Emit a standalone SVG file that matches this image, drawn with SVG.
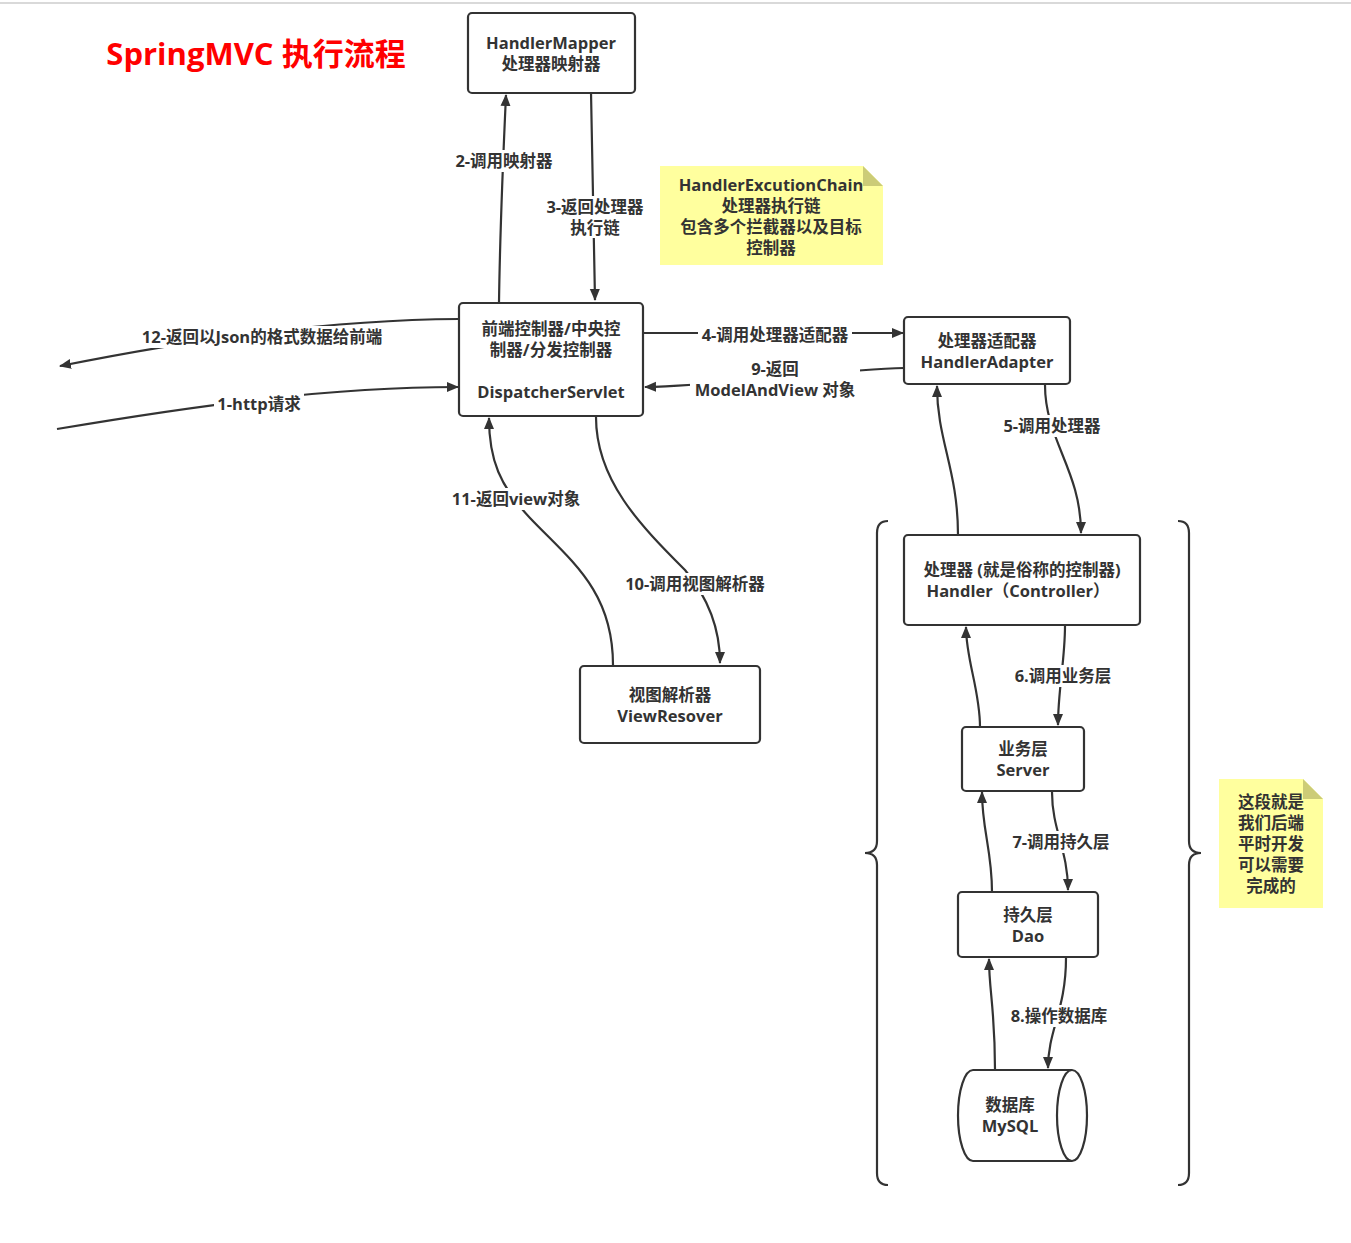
<svg xmlns="http://www.w3.org/2000/svg" width="1351" height="1243" viewBox="0 0 1351 1243">
<defs>
<marker id="ah" viewBox="0 0 12 12" refX="11" refY="6" markerWidth="12" markerHeight="12" markerUnits="userSpaceOnUse" orient="auto">
<path d="M0,1 L12,6 L0,11 Z" fill="#333"/>
</marker>
</defs>
<style>
.box{fill:#fff;stroke:#333;stroke-width:2.2}
.t{font-family:"Open Sans","Noto Sans CJK SC",sans-serif;font-size:16.5px;font-weight:bold;fill:#333;text-anchor:middle}
.c{fill:none;stroke:#333;stroke-width:2.2;marker-end:url(#ah)}
.l{fill:none;stroke:#333;stroke-width:2.2}
.lbl{font-family:"Open Sans","Noto Sans CJK SC",sans-serif;font-size:16.5px;font-weight:bold;fill:#333;text-anchor:middle}
.bg{fill:#fff}
.note{fill:#ffff99;opacity:0.95}
.fold{fill:#cccc77}
</style>
<rect width="1351" height="1243" fill="#fff"/>
<line x1="0" y1="3" x2="1351" y2="3" stroke="#ccc" stroke-width="1.5"/>
<text x="256" y="65" font-family="'Open Sans','Noto Sans CJK SC',sans-serif" font-size="31" font-weight="bold" fill="#ff0000" text-anchor="middle">SpringMVC 执行流程</text>

<g id="connectors">
<path class="c" d="M499,303 C500,230 503,160 506,95"/>
<path class="c" d="M591,92 C592,160 594,230 595,300"/>
<path class="c" d="M643,333 L903,333"/>
<path class="c" d="M904,368 C840,369 720,386 645,387"/>
<path class="c" d="M459,319 C330,320 200,338 60,366"/>
<path class="c" d="M57,429 C200,405 330,387 458,387"/>
<path class="c" d="M613,665 C613,590 570,560 530,518 C500,486 489,460 489,418"/>
<path class="c" d="M596,417 C596,480 640,525 685,570 C710,600 720,630 720,663"/>
<path class="c" d="M1045,385 C1045,440 1081,470 1081,533"/>
<path class="c" d="M958,535 C958,470 937,440 937,386"/>
<path class="c" d="M1065,626 C1065,660 1058,690 1058,725"/>
<path class="c" d="M980,727 C980,690 966,660 966,627"/>
<path class="c" d="M1052,792 C1052,830 1068,850 1068,890"/>
<path class="c" d="M992,892 C992,850 982,830 982,792"/>
<path class="c" d="M1066,958 C1066,1010 1048,1030 1048,1068"/>
<path class="c" d="M995,1069 C995,1010 989,990 989,959"/>
<path class="l" d="M888,521 Q877,521 877,533 L877,841 Q877,853 865,853 Q877,853 877,865 L877,1173 Q877,1185 888,1185"/>
<path class="l" d="M1178,521 Q1189,521 1189,533 L1189,841 Q1189,853 1201,853 Q1189,853 1189,865 L1189,1173 Q1189,1185 1178,1185"/>
<g id="labels">
<rect class="bg" x="453" y="150" width="104" height="22"/>
<text class="lbl" x="504" y="167">2-调用映射器</text>
<rect class="bg" x="543" y="196" width="104" height="42"/>
<text class="lbl" x="595" y="213">3-返回处理器</text>
<text class="lbl" x="595" y="234">执行链</text>
<rect class="bg" x="698" y="324" width="154" height="22"/>
<text class="lbl" x="775" y="341">4-调用处理器适配器</text>
<rect class="bg" x="690" y="358" width="170" height="42"/>
<text class="lbl" x="775" y="375">9-返回</text>
<text class="lbl" x="775" y="396">ModelAndView 对象</text>
<rect class="bg" x="136" y="326" width="254" height="22"/>
<text class="lbl" x="262" y="343">12-返回以Json的格式数据给前端</text>
<rect class="bg" x="214" y="393" width="90" height="22"/>
<text class="lbl" x="259" y="410">1-http请求</text>
<rect class="bg" x="448" y="488" width="136" height="22"/>
<text class="lbl" x="516" y="505">11-返回view对象</text>
<rect class="bg" x="621" y="573" width="148" height="22"/>
<text class="lbl" x="695" y="590">10-调用视图解析器</text>
<rect class="bg" x="1000" y="415" width="104" height="22"/>
<text class="lbl" x="1052" y="432">5-调用处理器</text>
<rect class="bg" x="1013" y="665" width="101" height="22"/>
<text class="lbl" x="1063" y="682">6.调用业务层</text>
<rect class="bg" x="1010" y="831" width="104" height="22"/>
<text class="lbl" x="1061" y="848">7-调用持久层</text>
<rect class="bg" x="1009" y="1005" width="101" height="22"/>
<text class="lbl" x="1059" y="1022">8.操作数据库</text>
</g>
</g>

<g id="handlerMapper">
<rect class="box" x="468" y="13" width="167" height="80" rx="4"/>
<text class="t" x="551" y="49">HandlerMapper</text>
<text class="t" x="551" y="70">处理器映射器</text>
</g>
<g id="note1">
<path class="note" d="M660,166 L863,166 L883,186 L883,265 L660,265 Z"/>
<path class="fold" d="M863,166 L883,186 L863,186 Z"/>
<text class="t" x="771" y="191">HandlerExcutionChain</text>
<text class="t" x="771" y="212">处理器执行链</text>
<text class="t" x="771" y="233">包含多个拦截器以及目标</text>
<text class="t" x="771" y="254">控制器</text>
</g>
<g id="dispatcher">
<rect class="box" x="459" y="303" width="184" height="113" rx="4"/>
<text class="t" x="551" y="335">前端控制器/中央控</text>
<text class="t" x="551" y="356">制器/分发控制器</text>
<text class="t" x="551" y="398">DispatcherServlet</text>
</g>
<g id="handlerAdapter">
<rect class="box" x="904" y="317" width="166" height="67" rx="4"/>
<text class="t" x="987" y="347">处理器适配器</text>
<text class="t" x="987" y="368">HandlerAdapter</text>
</g>
<g id="viewResolver">
<rect class="box" x="580" y="666" width="180" height="77" rx="4"/>
<text class="t" x="670" y="701">视图解析器</text>
<text class="t" x="670" y="722">ViewResover</text>
</g>
<g id="handler">
<rect class="box" x="904" y="535" width="236" height="90" rx="4"/>
<text class="t" x="1022" y="576">处理器 (就是俗称的控制器)</text>
<text class="t" x="1018" y="597">Handler（Controller）</text>
</g>
<g id="server">
<rect class="box" x="962" y="727" width="122" height="64" rx="4"/>
<text class="t" x="1023" y="755">业务层</text>
<text class="t" x="1023" y="776">Server</text>
</g>
<g id="dao">
<rect class="box" x="958" y="892" width="140" height="65" rx="4"/>
<text class="t" x="1028" y="921">持久层</text>
<text class="t" x="1028" y="942">Dao</text>
</g>
<g id="mysql">
<path class="box" d="M973,1070 L1072,1070 A15,45.5 0 0 1 1072,1161 L973,1161 A15,45.5 0 0 1 973,1070 Z"/>
<path class="l" d="M1072,1070 A15,45.5 0 0 0 1072,1161"/>
<text class="t" x="1010" y="1111">数据库</text>
<text class="t" x="1010" y="1132">MySQL</text>
</g>
<g id="note2">
<path class="note" d="M1219,779 L1303,779 L1323,799 L1323,908 L1219,908 Z"/>
<path class="fold" d="M1303,779 L1323,799 L1303,799 Z"/>
<text class="t" x="1271" y="808">这段就是</text>
<text class="t" x="1271" y="829">我们后端</text>
<text class="t" x="1271" y="850">平时开发</text>
<text class="t" x="1271" y="871">可以需要</text>
<text class="t" x="1271" y="892">完成的</text>
</g>
</svg>
